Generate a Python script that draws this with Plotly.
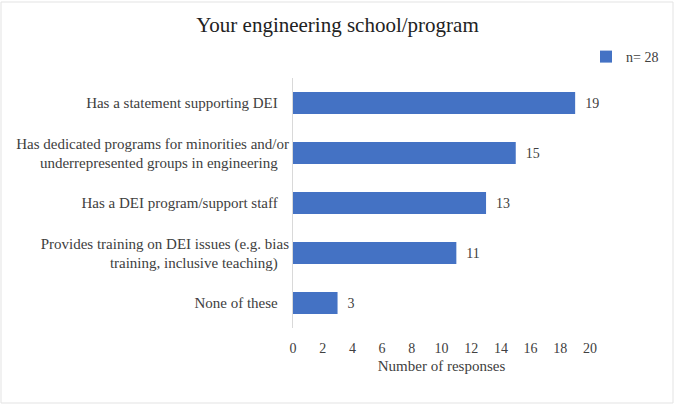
import plotly.graph_objects as go

categories = [
    "None of these",
    "Provides training on DEI issues (e.g. bias<br>training, inclusive teaching)",
    "Has a DEI program/support staff",
    "Has dedicated programs for minorities and/or<br>underrepresented groups in engineering",
    "Has a statement supporting DEI",
]
values = [3, 11, 13, 15, 19]
series_name = "n= 28"
x_ticks = [0, 2, 4, 6, 8, 10, 12, 14, 16, 18, 20]

FONT = "Liberation Serif, Times New Roman, serif"

fig = go.Figure()
fig.add_trace(go.Bar(
    y=categories,
    x=values,
    orientation="h",
    name=series_name,
    marker=dict(color="#4472C4", line=dict(width=0)),
    text=[str(v) for v in values],
    texttemplate="  %{text}",
    textposition="outside",
    textfont=dict(family=FONT, size=14, color="#404040"),
    cliponaxis=False,
    showlegend=True,
))

fig.update_layout(
    width=675, height=405,
    margin=dict(l=293, r=85, t=78, b=77, autoexpand=False),
    paper_bgcolor="white",
    plot_bgcolor="white",
    bargap=0.56,
    font=dict(family=FONT, size=13, color="#404040"),
    title=dict(
        text="Your engineering school/program",
        font=dict(family=FONT, size=21, color="#222222"),
        x=0.5, xref="container", xanchor="center",
        y=1 - 25 / 405, yref="container", yanchor="middle",
    ),
    legend=dict(
        orientation="h",
        xref="container", yref="container",
        x=586 / 675, xanchor="left",
        y=1 - 57 / 405, yanchor="middle",
        font=dict(family=FONT, size=14, color="#404040"),
        itemsizing="constant",
        bgcolor="rgba(0,0,0,0)",
    ),
    xaxis=dict(
        range=[0, 20],
        tickvals=x_ticks,
        ticktext=[str(t) for t in x_ticks],
        showgrid=False,
        zeroline=False,
        showline=False,
        ticks="outside",
        ticklen=7,
        tickcolor="rgba(0,0,0,0)",
        tickfont=dict(family=FONT, size=14, color="#404040"),
        title=dict(text="Number of responses", font=dict(family=FONT, size=15, color="#404040"), standoff=5),
        fixedrange=True,
    ),
    yaxis=dict(
        showgrid=False,
        zeroline=False,
        showline=True,
        linecolor="#d9d9d9",
        linewidth=1,
        ticks="",
        ticksuffix="   ",
        tickfont=dict(family=FONT, size=15, color="#404040"),
        fixedrange=True,
    ),
    shapes=[dict(
        type="rect", xref="paper", yref="paper",
        x0=(1 - 293) / 297, x1=(673 - 293) / 297,
        y0=(328 - 403) / 250, y1=(328 - 2) / 250,
        line=dict(color="#e3e3e3", width=1),
        fillcolor="rgba(0,0,0,0)",
        layer="below",
    )],
)

fig.write_html("out.html")
